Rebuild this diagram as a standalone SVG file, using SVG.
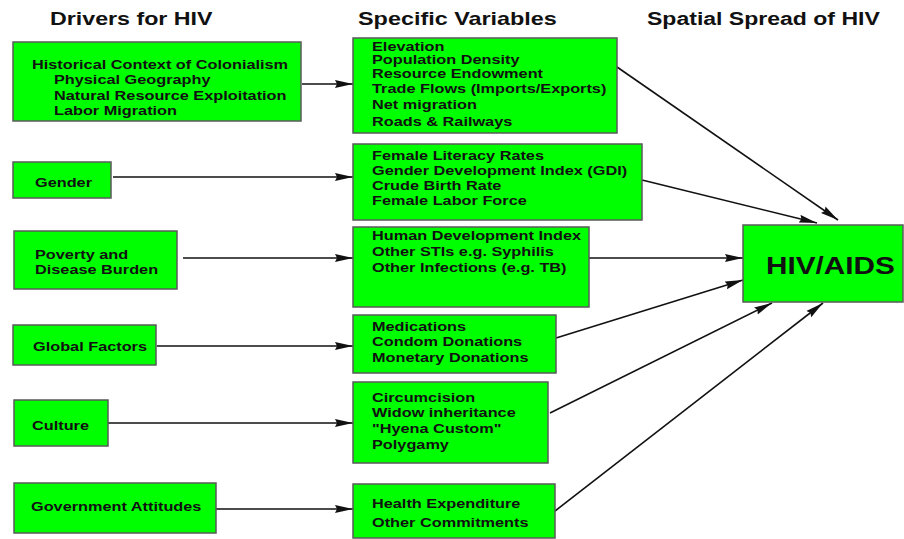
<svg xmlns="http://www.w3.org/2000/svg" width="904" height="539" viewBox="0 0 904 539">
<style>
  .box { fill: #00ff00; stroke: #5a5a5a; stroke-width: 1.5; }
  .t { font-family: "Liberation Sans", Arial, sans-serif; font-weight: bold; font-size: 13.5px; fill: #111; }
  .h { font-family: "Liberation Sans", Arial, sans-serif; font-weight: bold; font-size: 18px; fill: #111; }
  .big { font-family: "Liberation Sans", Arial, sans-serif; font-weight: bold; font-size: 24px; fill: #111; }
  .c { stroke: #111; stroke-width: 1.6; fill: none; marker-end: url(#arr); }
</style>
<defs>
  <marker id="arr" viewBox="0 0 18 9" refX="18" refY="4.5" markerWidth="18" markerHeight="9" markerUnits="userSpaceOnUse" orient="auto">
    <path d="M0,0.5 L18,4.5 L0,8.5 L2,4.5 z" fill="#111"/>
  </marker>
</defs>
<rect width="904" height="539" fill="#ffffff"/>

<g id="headers">
  <text class="h" transform="translate(50,25) scale(1.29,1)">Drivers for HIV</text>
  <text class="h" transform="translate(358,25) scale(1.3,1)">Specific Variables</text>
  <text class="h" transform="translate(647,25) scale(1.28,1)">Spatial Spread of HIV</text>
</g>

<g id="connectors">
  <line class="c" x1="302" y1="84" x2="353" y2="84"/>
  <line class="c" x1="113" y1="177" x2="353" y2="177"/>
  <line class="c" x1="183" y1="258" x2="353" y2="258"/>
  <line class="c" x1="157" y1="346" x2="353" y2="346"/>
  <line class="c" x1="108" y1="423" x2="353" y2="423"/>
  <line class="c" x1="216" y1="509" x2="353" y2="509"/>
  <line class="c" x1="617" y1="67" x2="838" y2="220"/>
  <line class="c" x1="642" y1="180" x2="817" y2="223"/>
  <line class="c" x1="589" y1="258" x2="743" y2="258"/>
  <line class="c" x1="556" y1="338" x2="743" y2="280"/>
  <line class="c" x1="550" y1="413" x2="772" y2="303"/>
  <line class="c" x1="555" y1="511" x2="823" y2="303"/>
</g>

<g id="n-history">
  <rect class="box" x="13" y="42" width="288" height="79"/>
  <text class="t" transform="translate(32,0) scale(1.207,1)">
    <tspan x="0" y="69">Historical Context of Colonialism</tspan>
    <tspan x="18.2" y="84">Physical Geography</tspan>
    <tspan x="18.2" y="100">Natural Resource Exploitation</tspan>
    <tspan x="18.2" y="115">Labor Migration</tspan>
  </text>
</g>
<g id="n-gender">
  <rect class="box" x="13" y="162" width="98" height="36"/>
  <text class="t" transform="translate(35,187) scale(1.207,1)">Gender</text>
</g>
<g id="n-poverty">
  <rect class="box" x="14" y="231" width="163" height="58"/>
  <text class="t" transform="translate(35,0) scale(1.207,1)">
    <tspan x="0" y="259">Poverty and</tspan>
    <tspan x="0" y="274">Disease Burden</tspan>
  </text>
</g>
<g id="n-global">
  <rect class="box" x="13" y="325" width="143" height="40"/>
  <text class="t" transform="translate(33,351) scale(1.207,1)">Global Factors</text>
</g>
<g id="n-culture">
  <rect class="box" x="14" y="400" width="94" height="46"/>
  <text class="t" transform="translate(32,430) scale(1.207,1)">Culture</text>
</g>
<g id="n-government">
  <rect class="box" x="14" y="483" width="202" height="50"/>
  <text class="t" transform="translate(31,511) scale(1.207,1)">Government Attitudes</text>
</g>

<g id="v-geography">
  <rect class="box" x="353" y="38" width="264" height="95"/>
  <text class="t" transform="translate(372,0) scale(1.207,1)">
    <tspan x="0" y="51">Elevation</tspan>
    <tspan x="0" y="64.5">Population Density</tspan>
    <tspan x="0" y="78">Resource Endowment</tspan>
    <tspan x="0" y="93">Trade Flows (Imports/Exports)</tspan>
    <tspan x="0" y="109">Net migration</tspan>
    <tspan x="0" y="126">Roads &amp; Railways</tspan>
  </text>
</g>
<g id="v-gender">
  <rect class="box" x="353" y="144" width="289" height="76"/>
  <text class="t" transform="translate(372,0) scale(1.207,1)">
    <tspan x="0" y="160">Female Literacy Rates</tspan>
    <tspan x="0" y="175">Gender Development Index (GDI)</tspan>
    <tspan x="0" y="190">Crude Birth Rate</tspan>
    <tspan x="0" y="205">Female Labor Force</tspan>
  </text>
</g>
<g id="v-poverty">
  <rect class="box" x="353" y="227" width="236" height="80"/>
  <text class="t" transform="translate(372,0) scale(1.207,1)">
    <tspan x="0" y="240">Human Development Index</tspan>
    <tspan x="0" y="256">Other STIs e.g. Syphilis</tspan>
    <tspan x="0" y="272">Other Infections (e.g. TB)</tspan>
  </text>
</g>
<g id="v-global">
  <rect class="box" x="353" y="315" width="203" height="58"/>
  <text class="t" transform="translate(372,0) scale(1.207,1)">
    <tspan x="0" y="331">Medications</tspan>
    <tspan x="0" y="346">Condom Donations</tspan>
    <tspan x="0" y="362">Monetary Donations</tspan>
  </text>
</g>
<g id="v-culture">
  <rect class="box" x="353" y="382" width="195" height="81"/>
  <text class="t" transform="translate(372,0) scale(1.207,1)">
    <tspan x="0" y="402">Circumcision</tspan>
    <tspan x="0" y="417">Widow inheritance</tspan>
    <tspan x="0" y="433">"Hyena Custom"</tspan>
    <tspan x="0" y="449">Polygamy</tspan>
  </text>
</g>
<g id="v-government">
  <rect class="box" x="353" y="484" width="202" height="54"/>
  <text class="t" transform="translate(372,0) scale(1.207,1)">
    <tspan x="0" y="508">Health Expenditure</tspan>
    <tspan x="0" y="527">Other Commitments</tspan>
  </text>
</g>

<g id="n-hivaids">
  <rect class="box" x="743" y="225" width="160" height="77"/>
  <text class="big" transform="translate(766,274) scale(1.24,1)">HIV/AIDS</text>
</g>
</svg>
